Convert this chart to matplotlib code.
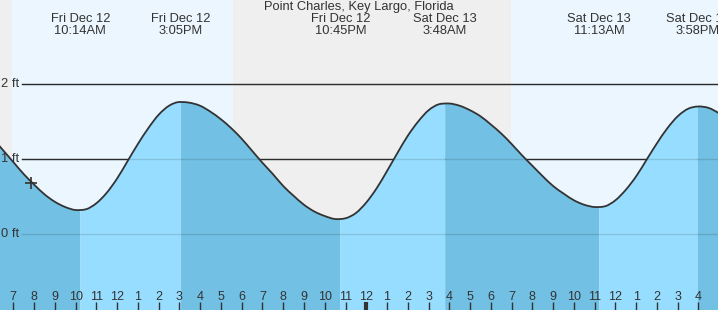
import matplotlib
matplotlib.use("Agg")
import matplotlib.pyplot as plt
import numpy as np
from matplotlib.path import Path
from matplotlib.patches import PathPatch

# --- Data (hours counted from Fri Dec 12, 00:00) ---

tide_hours = [6, 6.5, 7, 7.5, 8, 8.5, 9, 9.5, 10, 10.23,
              10.5, 11, 11.5, 12, 12.5, 13, 13.5, 14, 14.5, 15, 15.08,
              15.5, 16, 16.5, 17, 17.5, 18, 18.5, 19, 19.5, 20, 20.5, 21, 21.5, 22, 22.5, 22.75,
              23, 23.5, 24, 24.5, 25, 25.5, 26, 26.5, 27, 27.5, 27.8,
              28, 28.5, 29, 29.5, 30, 30.5, 31, 31.5, 32, 32.5, 33, 33.5, 34, 34.5, 35, 35.22,
              35.5, 36, 36.5, 37, 37.5, 38, 38.5, 39, 39.5, 39.97,
              40.5, 41]
tide_ft = [1.28, 1.12, 0.96, 0.80, 0.66, 0.53, 0.43, 0.36, 0.32, 0.32,
           0.33, 0.41, 0.55, 0.74, 0.97, 1.20, 1.41, 1.59, 1.71, 1.76, 1.76,
           1.75, 1.71, 1.63, 1.53, 1.41, 1.27, 1.11, 0.95, 0.80, 0.64, 0.51, 0.39, 0.30, 0.24, 0.20, 0.20,
           0.21, 0.28, 0.42, 0.61, 0.84, 1.08, 1.31, 1.50, 1.65, 1.73, 1.74,
           1.74, 1.71, 1.65, 1.57, 1.46, 1.34, 1.20, 1.05, 0.91, 0.77, 0.64, 0.54, 0.45, 0.39, 0.36, 0.36,
           0.37, 0.45, 0.59, 0.77, 0.99, 1.21, 1.41, 1.57, 1.67, 1.70,
           1.68, 1.61]

extreme_hours = [10.23, 15.08, 22.75, 27.8, 35.22, 39.97]
extreme_kind = ["low", "high", "low", "high", "low", "high"]
extreme_day = ["Fri Dec 12", "Fri Dec 12", "Fri Dec 12", "Sat Dec 13", "Sat Dec 13", "Sat Dec 13"]
extreme_time = ["10:14AM", "3:05PM", "10:45PM", "3:48AM", "11:13AM", "3:58PM"]

daylight = [(6.94, 17.58), (30.97, 41.0)]

hour_ticks = list(range(7, 41))
hour_labels = [str((h - 1) % 12 + 1) for h in hour_ticks]

now_hour, now_ft = 7.86, 0.675

title = "Point Charles, Key Largo, Florida"

# --- Styles ---

X_MIN, X_MAX = 6.36, 40.94
Y_MIN, Y_MAX = -1.013, 3.12
DARK = "#72c0e4"
LIGHT = "#97ddff"
DAY_BG = "#ebf6fe"
NIGHT_BG = "#efefef"
INK = "#333333"


def smooth_segments(x, y):
    """Cubic Bezier pieces through the points (Hermite, slopes from np.gradient)."""
    d = np.gradient(y, x)
    verts = [(x[0], y[0])]
    for i in range(len(x) - 1):
        dx = (x[i + 1] - x[i]) / 3
        verts += [(x[i] + dx, y[i] + d[i] * dx),
                  (x[i + 1] - dx, y[i + 1] - d[i + 1] * dx),
                  (x[i + 1], y[i + 1])]
    return verts


plt.rcParams["font.family"] = ["Liberation Sans", "DejaVu Sans"]

fig = plt.figure(figsize=(7.18, 3.10), dpi=100)
ax = fig.add_axes([0, 0, 1, 1])
ax.set_xlim(X_MIN, X_MAX)
ax.set_ylim(Y_MIN, Y_MAX)
ax.set_facecolor(NIGHT_BG)
ax.set_axisbelow(False)
for s in ax.spines.values():
    s.set_visible(False)

for a, b in daylight:
    ax.axvspan(a, b, color=DAY_BG, lw=0, zorder=0)

# grid lines, behind and (faintly) over the fill
ax.axhline(2, xmin=0.031, color=INK, lw=1, zorder=1)
ax.axhline(1, xmin=0.031, color=INK, lw=1, zorder=1)
for lvl in (0, 1, 2):
    ax.axhline(lvl, xmin=0.031, color="black", lw=1, alpha=0.12, zorder=3)

# tide fill: dark while falling, light while rising
t = np.array(tide_hours)
h = np.array(tide_ft)
bounds = [t[0]] + extreme_hours + [t[-1]]
for i in range(len(bounds) - 1):
    m = (t >= bounds[i] - 1e-9) & (t <= bounds[i + 1] + 1e-9)
    falling = extreme_kind[i] == "low" if i < len(extreme_kind) else True
    top = smooth_segments(t[m], h[m])
    verts = [(t[m][0], Y_MIN)] + top + [(t[m][-1], Y_MIN), (t[m][0], Y_MIN)]
    codes = ([Path.MOVETO, Path.LINETO] + [Path.CURVE4] * (len(top) - 1)
             + [Path.LINETO, Path.CLOSEPOLY])
    ax.add_patch(PathPatch(Path(verts, codes), facecolor=DARK if falling else LIGHT,
                           lw=0, zorder=2))

line_verts = smooth_segments(t, h)
line_codes = [Path.MOVETO] + [Path.CURVE4] * (len(line_verts) - 1)
ax.add_patch(PathPatch(Path(line_verts, line_codes), facecolor="none",
                       edgecolor=INK, lw=1.3, zorder=4))

ax.plot(now_hour, now_ft, marker="+", ms=9, mew=1.2, color=INK, zorder=5)

# level labels
for lvl in (0, 1, 2):
    ax.text(0.001, lvl, f"{lvl} ft", transform=ax.get_yaxis_transform(),
            ha="left", va="center", fontsize=9.3, color=INK, zorder=6)

# extreme labels
xt = ax.get_xaxis_transform()
for hr, d, tm in zip(extreme_hours, extreme_day, extreme_time):
    ax.text(hr, 1 - 19.5 / 310, d, transform=xt, ha="center", va="center",
            fontsize=9.3, color=INK, zorder=6)
    ax.text(hr, 1 - 31.5 / 310, tm, transform=xt, ha="center", va="center",
            fontsize=9.3, color=INK, zorder=6)

ax.text(0.5, 1 - 7 / 310, title, transform=ax.transAxes, ha="center", va="center",
        fontsize=9.3, color=INK, zorder=6)

# hour ticks along the bottom
ax.set_yticks([])
ax.set_xticks(hour_ticks)
ax.set_xticklabels(hour_labels)
ax.tick_params(axis="x", direction="in", length=6, width=1, color=INK,
               pad=-14, labelsize=9, labelcolor=INK)
for tk, hr in zip(ax.xaxis.get_major_ticks(), hour_ticks):
    if hr % 24 == 0:
        tk.tick1line.set_markeredgewidth(3)

fig.savefig("out.png", dpi=100)
